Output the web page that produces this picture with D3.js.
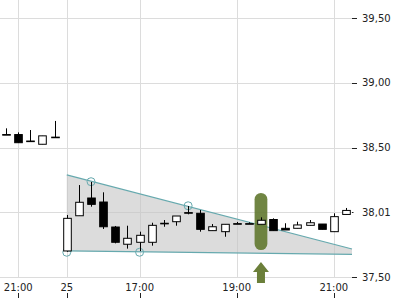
<!DOCTYPE html>
<html>
<head>
<meta charset="utf-8">
<script src="https://cdn.jsdelivr.net/npm/d3@7"></script>
<style>
  body { margin: 0; background: #fff; }
  text { font-family: "DejaVu Sans", sans-serif; font-size: 10px; fill: #222; }
</style>
</head>
<body>
<div id="chart"></div>
<script>
// 15 min candles, index = position on the axis
var opens  = [38.60, 38.60, 38.55, 38.525, 38.58, 37.701, 37.973, 38.110, 38.079, 37.886, 37.753, 37.768, 37.768, 37.915, 37.927, 37.997, 37.992, 37.858, 37.850, 37.912, 37.912, 37.907, 37.944, 37.876, 37.876, 37.899, 37.909, 37.850, 37.983];
var highs  = [38.648, 38.617, 38.635, 38.59, 38.705, 37.979, 38.210, 38.234, 38.154, 37.894, 37.896, 37.850, 37.919, 37.940, 37.971, 38.048, 38.017, 37.909, 37.907, 37.925, 37.922, 37.961, 37.953, 37.915, 37.927, 37.940, 37.909, 37.992, 38.033];
var lows   = [38.60, 38.537, 38.55, 38.525, 38.58, 37.695, 37.973, 38.043, 37.871, 37.760, 37.719, 37.700, 37.742, 37.888, 37.896, 37.984, 37.850, 37.858, 37.811, 37.912, 37.912, 37.907, 37.858, 37.863, 37.876, 37.899, 37.868, 37.850, 37.983];
var closes = [38.60, 38.537, 38.55, 38.59, 38.58, 37.953, 38.077, 38.061, 37.888, 37.768, 37.799, 37.822, 37.899, 37.915, 37.971, 37.997, 37.868, 37.888, 37.907, 37.912, 37.912, 37.938, 37.858, 37.863, 37.902, 37.919, 37.868, 37.966, 38.014];

// x axis labels (candle index -> label)
var xTickIdx = [1, 5, 11, 19, 27];
var xTickLabels = ["21:00", "25", "17:00", "19:00", "21:00"];

// y axis
var yTicks = [37.5, 38.0, 38.5, 39.0, 39.5];
var yTickLabels = ["37,50", "38,01", "38,50", "39,00", "39,50"];
var lastPriceTick = 38.0;

// triangle pattern: [index, value]
var upperLine = [[5, 38.288], [28.5, 37.716]];
var lowerLine = [[5, 37.701], [28.5, 37.675]];
// touch points of the pattern
var touchIdx = [5, 7, 11, 15];
var touchVal = [37.691, 38.236, 37.691, 38.050];

// signal candle
var signalIdx = 21;

var plotW = 352, plotH = 277;

var svg = d3.select("#chart")
  .append("svg")
  .attr("width", 400)
  .attr("height", 300);

var x = d3.scaleLinear().domain([-0.5, 28.5]).range([0, plotW]);
var y = d3.scaleLinear().domain([37.5, 39.5]).range([277, 18]);
var step = x(1) - x(0);

// grid
svg.append("g")
  .selectAll("line")
  .data(yTicks)
  .enter()
  .append("line")
  .attr("x1", 0)
  .attr("x2", plotW)
  .attr("y1", function (d) { return Math.round(y(d)) + 0.5; })
  .attr("y2", function (d) { return Math.round(y(d)) + 0.5; })
  .attr("stroke", "#dcdcdc");

svg.append("g")
  .selectAll("line")
  .data(xTickIdx)
  .enter()
  .append("line")
  .attr("x1", function (d) { return Math.round(x(d)) + 0.5; })
  .attr("x2", function (d) { return Math.round(x(d)) + 0.5; })
  .attr("y1", 0)
  .attr("y2", plotH)
  .attr("stroke", "#dcdcdc");

// triangle area
var area = upperLine.concat(lowerLine.slice().reverse());
svg.append("path")
  .attr("d", d3.line()
    .x(function (d) { return x(d[0]); })
    .y(function (d) { return y(d[1]); })(area) + "Z")
  .attr("fill", "#c4c4c4")
  .attr("fill-opacity", 0.6);

[upperLine, lowerLine].forEach(function (ln) {
  svg.append("line")
    .attr("x1", x(ln[0][0]))
    .attr("y1", y(ln[0][1]))
    .attr("x2", x(ln[1][0]))
    .attr("y2", y(ln[1][1]))
    .attr("stroke", "#66a9ae")
    .attr("stroke-width", 1.2);
});

svg.append("g")
  .selectAll("circle")
  .data(touchIdx)
  .enter()
  .append("circle")
  .attr("cx", function (d) { return x(d); })
  .attr("cy", function (d, i) { return y(touchVal[i]); })
  .attr("r", 4)
  .attr("fill", "none")
  .attr("stroke", "#66a9ae")
  .attr("stroke-width", 1);

// signal highlight
var hlW = step * 1.05;
svg.append("rect")
  .attr("x", x(signalIdx) - hlW / 2)
  .attr("y", 193)
  .attr("width", hlW)
  .attr("height", 57)
  .attr("rx", hlW / 2)
  .attr("fill", "#60782f")
  .attr("fill-opacity", 0.9);

// candles
var idx = d3.range(opens.length);
var bodyW = 7.6;

var candles = svg.append("g")
  .selectAll("g")
  .data(idx)
  .enter()
  .append("g");

candles.append("line")
  .attr("x1", function (d) { return Math.round(x(d)) + 0.5; })
  .attr("x2", function (d) { return Math.round(x(d)) + 0.5; })
  .attr("y1", function (d) { return y(highs[d]); })
  .attr("y2", function (d) { return y(lows[d]); })
  .attr("stroke", "#000")
  .attr("stroke-width", 1);

candles.append("rect")
  .attr("x", function (d) { return Math.round(x(d)) + 0.5 - bodyW / 2; })
  .attr("y", function (d) { return y(Math.max(opens[d], closes[d])); })
  .attr("width", bodyW)
  .attr("height", function (d) {
    return Math.max(0.6, Math.abs(y(opens[d]) - y(closes[d])));
  })
  .attr("fill", function (d) { return closes[d] > opens[d] ? "#fff" : "#000"; })
  .attr("stroke", "#000")
  .attr("stroke-width", 1);

// arrow under the signal candle
var ax = x(signalIdx);
svg.append("path")
  .attr("d", "M" + ax + ",262 L" + (ax + 8) + ",272 L" + (ax + 4) + ",272 L" + (ax + 4) + ",283 L" +
    (ax - 4) + ",283 L" + (ax - 4) + ",272 L" + (ax - 8) + ",272 Z")
  .attr("fill", "#6b7f3a");

// x axis: labels above small ticks
var xg = svg.append("g");
xg.selectAll("text")
  .data(xTickIdx)
  .enter()
  .append("text")
  .attr("x", function (d) { return x(d); })
  .attr("y", 291)
  .attr("text-anchor", "middle")
  .text(function (d, i) { return xTickLabels[i]; });

xg.selectAll("line")
  .data(xTickIdx)
  .enter()
  .append("line")
  .attr("x1", function (d) { return Math.round(x(d)) + 0.5; })
  .attr("x2", function (d) { return Math.round(x(d)) + 0.5; })
  .attr("y1", 293)
  .attr("y2", 298)
  .attr("stroke", "#222");

// y axis on the right
var yg = svg.append("g");
yg.selectAll("line")
  .data(yTicks)
  .enter()
  .append("line")
  .attr("x1", function (d) { return d == lastPriceTick ? 352 : 352; })
  .attr("x2", function (d) { return d == lastPriceTick ? 353.5 : 357; })
  .attr("y1", function (d) { return Math.round(y(d)) + 0.5; })
  .attr("y2", function (d) { return Math.round(y(d)) + 0.5; })
  .attr("stroke", "#222");

yg.selectAll("text")
  .data(yTicks)
  .enter()
  .append("text")
  .attr("x", 362)
  .attr("y", function (d) { return y(d); })
  .attr("dy", "0.35em")
  .text(function (d, i) { return yTickLabels[i]; });
</script>
</body>
</html>
